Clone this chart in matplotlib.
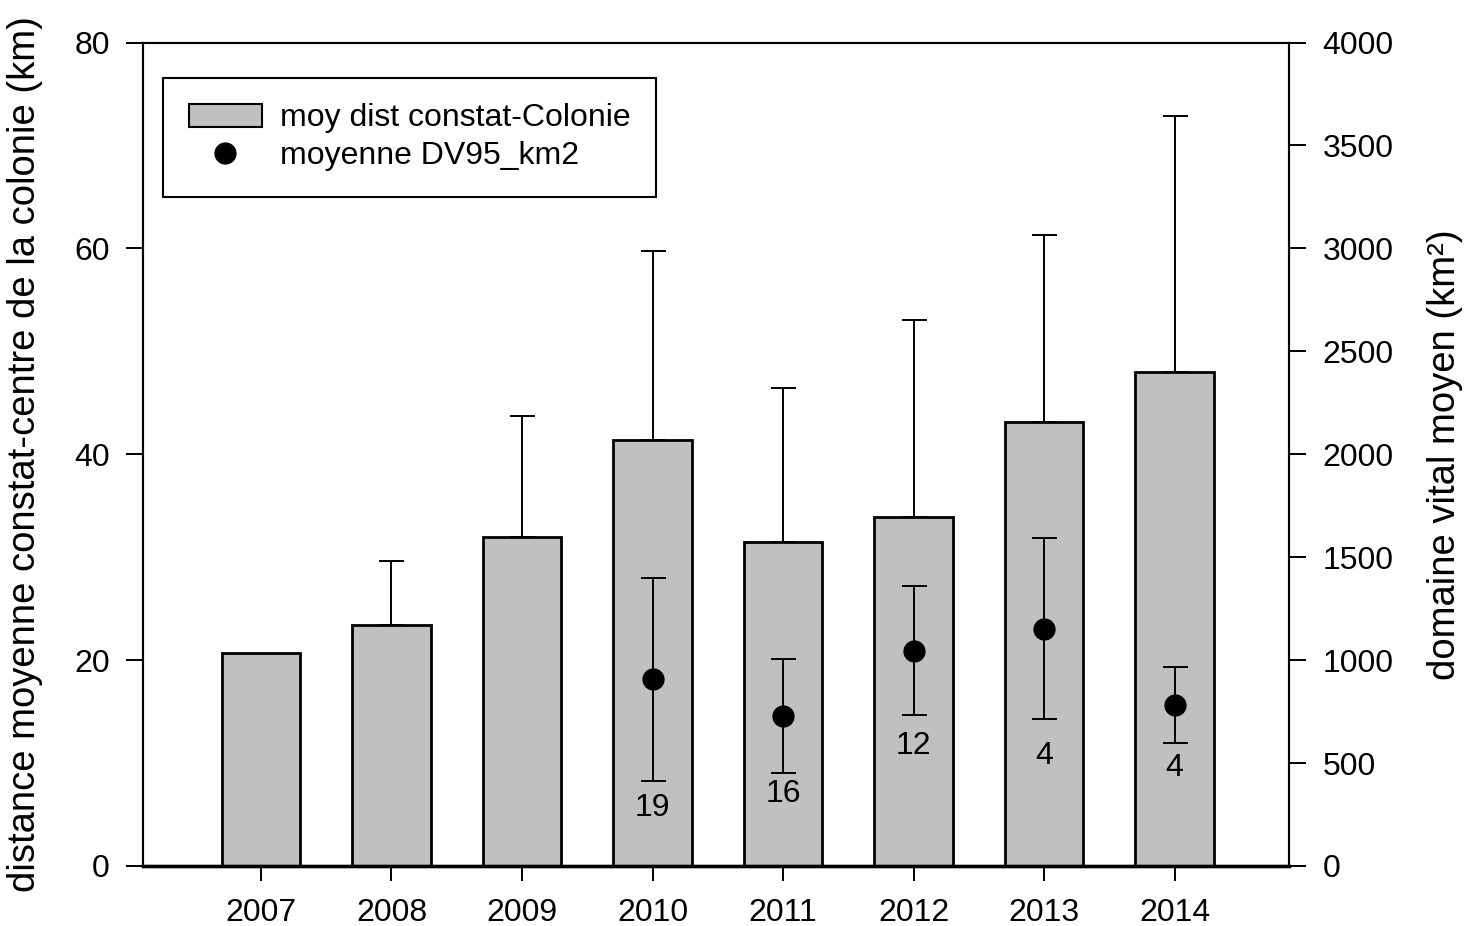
import matplotlib.pyplot as plt
import numpy as np
from matplotlib.lines import Line2D
from matplotlib.patches import Patch

plt.rcParams["font.family"] = ["Liberation Sans", "DejaVu Sans"]

years = ["2007", "2008", "2009", "2010", "2011", "2012", "2013", "2014"]

# distance moyenne constat-colonie (km), barres + erreur haute
dist_mean = [20.7, 23.4, 32.0, 41.4, 31.5, 33.9, 43.1, 48.0]
dist_err = [0.0, 6.2, 11.7, 18.3, 14.9, 19.1, 18.2, 24.9]

# domaine vital moyen (km2), seulement 2010-2014
dv_years = ["2010", "2011", "2012", "2013", "2014"]
dv_mean = [907, 730, 1046, 1152, 781]
dv_err = [494, 276, 313, 440, 184]
dv_n = ["19", "16", "12", "4", "4"]
dv_n_y = [282, 350, 583, 535, 476]

bar_color = "#c0c0c0"
fs = 23
fs_label = 27.5


def main():
    fig = plt.figure(figsize=(14.65, 9.26), dpi=100)
    ax = fig.add_axes([0.0976, 0.0648, 0.7823, 0.8893])
    ax2 = ax.twinx()

    x = np.arange(len(years))
    ax.bar(x, dist_mean, width=0.6, color=bar_color, edgecolor="black",
           linewidth=2.0, zorder=2)

    err = np.array(dist_err)
    mask = err > 0
    ax.errorbar(x[mask], np.array(dist_mean)[mask],
                yerr=[np.zeros(mask.sum()), err[mask]],
                fmt="none", ecolor="black", elinewidth=1.4, capsize=9,
                capthick=1.4, zorder=3)

    xdv = np.array([years.index(y) for y in dv_years])
    ax2.errorbar(xdv, dv_mean, yerr=dv_err, fmt="o", color="black",
                 markersize=15, elinewidth=1.4, capsize=9, capthick=1.4,
                 zorder=4)
    for xi, yi, n in zip(xdv, dv_n_y, dv_n):
        ax2.text(xi, yi, n, ha="center", va="center", fontsize=fs)

    ax.set_xlim(-0.904, 7.877)
    ax.set_ylim(0, 80)
    ax2.set_ylim(0, 4000)
    ax.set_xticks(x)
    ax.set_xticklabels(years)
    ax.set_yticks([0, 20, 40, 60, 80])
    ax2.set_yticks(np.arange(0, 4001, 500))

    ax.tick_params(axis="y", direction="out", length=12, width=1.4,
                   labelsize=fs, pad=12)
    ax.tick_params(axis="x", direction="out", length=11, width=1.4,
                   labelsize=fs, pad=12)
    ax2.tick_params(axis="y", direction="out", length=12, width=1.4,
                    labelsize=fs, pad=12)

    for a in (ax, ax2):
        for side in ("left", "right", "top"):
            a.spines[side].set_linewidth(1.5)
        a.spines["bottom"].set_linewidth(2.4)

    ax.set_ylabel("distance moyenne constat-centre de la colonie (km)",
                  fontsize=fs_label)
    ax2.set_ylabel("domaine vital moyen (km²)", fontsize=fs_label)
    ax.yaxis.set_label_coords(-0.087, 0.5)
    ax2.yaxis.set_label_coords(1.120, 0.5)

    handles = [
        Patch(facecolor=bar_color, edgecolor="black", linewidth=1.5),
        Line2D([], [], marker="o", color="black", linestyle="none",
               markersize=15),
    ]
    leg = ax2.legend(handles, ["moy dist constat-Colonie", "moyenne DV95_km2"],
                     loc="upper left", bbox_to_anchor=(0.0175, 0.957),
                     borderaxespad=0, fontsize=fs, fancybox=False,
                     framealpha=1, edgecolor="black", handlelength=2.3,
                     handleheight=0.75, handletextpad=0.55, labelspacing=0.25,
                     borderpad=0.8, numpoints=1)
    leg.get_frame().set_linewidth(1.5)

    fig.savefig("out.png", dpi=100)


if __name__ == "__main__":
    main()
